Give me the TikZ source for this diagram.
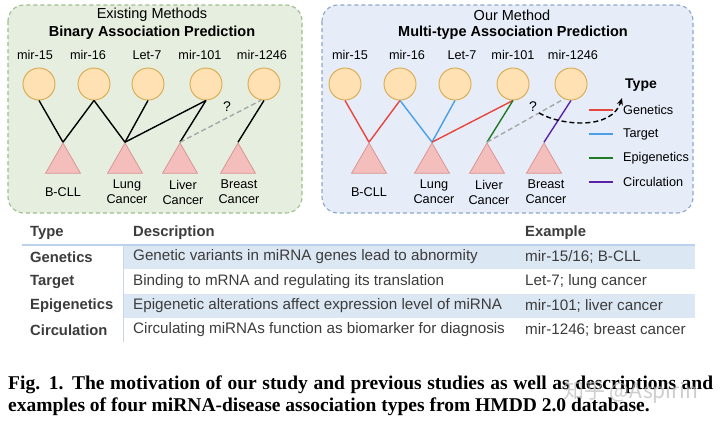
\documentclass[tikz,border=0pt]{standalone}
\usepackage{fontspec}
\setmainfont{Liberation Sans}
\newfontfamily\capfont{Liberation Serif}
\newfontfamily\cjk{Noto Sans CJK SC}
\usetikzlibrary{shapes.geometric,arrows.meta}
\definecolor{gfill}{HTML}{E5EEDF}
\definecolor{gline}{HTML}{9CBF8C}
\definecolor{bfill}{HTML}{E6EDF8}
\definecolor{bline}{HTML}{8EA6CB}
\definecolor{cfill}{HTML}{FFE1B3}
\definecolor{cline}{HTML}{D9A94E}
\definecolor{tfill}{HTML}{F4BEBC}
\definecolor{tline}{HTML}{D99693}
\definecolor{ered}{HTML}{E8453C}
\definecolor{eblue}{HTML}{4A9FE8}
\definecolor{egreen}{HTML}{1E7A26}
\definecolor{epurple}{HTML}{5A22A6}
\definecolor{tabtext}{HTML}{3C3C3C}
\definecolor{rowfill}{HTML}{DCE7F4}
\definecolor{hline}{HTML}{BCD2EC}
\definecolor{vline}{HTML}{CBD5E3}
\tikzset{
  panelL/.style={draw=gline, fill=gfill, dash pattern=on 4pt off 3pt, line width=1.1pt, rounded corners=16pt},
  panelR/.style={draw=bline, fill=bfill, dash pattern=on 4pt off 3pt, line width=1.1pt, rounded corners=16pt},
  mirna/.style={circle, draw=cline, fill=cfill, line width=0.9pt, minimum size=32pt, inner sep=0pt},
  dis/.style={regular polygon, regular polygon sides=3, draw=tline, fill=tfill, line width=0.8pt, minimum size=40.4pt, inner sep=0pt},
  lbl/.style={font=\fontsize{12.7}{15}\selectfont, align=center, inner sep=0pt},
  qlbl/.style={font=\fontsize{14}{17}\selectfont, inner sep=0pt},
  ttl/.style={font=\fontsize{14.5}{17}\selectfont, inner sep=0pt},
  ttlb/.style={font=\bfseries\fontsize{14.5}{17}\selectfont, inner sep=0pt},
  edge/.style={line width=1.4pt},
  qedge/.style={draw=gray!70, line width=1.4pt, dash pattern=on 5pt off 3pt},
  leg/.style={line width=1.4pt},
  tabh/.style={font=\bfseries\fontsize{14.8}{17}\selectfont, text=tabtext, anchor=west, inner sep=0pt},
  tabc/.style={font=\fontsize{15.2}{17}\selectfont, text=tabtext, anchor=west, inner sep=0pt},
  capt/.style={font=\capfont\bfseries\fontsize{19.5}{22}\selectfont, anchor=base west, inner sep=0pt},
}
\begin{document}
\begin{tikzpicture}[x=1pt,y=-1pt]
\useasboundingbox (0,0) rectangle (720,426);
\fill[white] (0,0) rectangle (720,426);

% ---------- left panel ----------
\draw[panelL] (8,5) rectangle (302,213);
\node[ttl] (lt) at (152,15) {Existing Methods};
\node[ttlb] (ltb) at (152,33) {Binary Association Prediction};

\node[lbl] (lm1) at (35,55) {mir-15};
\node[lbl] (lm2) at (88,55) {mir-16};
\node[lbl] (lm3) at (147,55) {Let-7};
\node[lbl] (lm4) at (200,55) {mir-101};
\node[lbl] (lm5) at (262,55) {mir-1246};

\node[mirna] (lc1) at (39,84) {};
\node[mirna] (lc2) at (94,84) {};
\node[mirna] (lc3) at (148,84) {};
\node[mirna] (lc4) at (206,84) {};
\node[mirna] (lc5) at (264,84) {};

\node[dis] (ld1) at (63,163.2) {};
\node[dis] (ld2) at (125,163.2) {};
\node[dis] (ld3) at (180,163.2) {};
\node[dis] (ld4) at (238,163.2) {};

\node[lbl] (ldl1) at (63,192) {B-CLL};
\node[lbl] (ldl2) at (127,192) {Lung\\Cancer};
\node[lbl] (ldl3) at (183,192) {Liver\\Cancer};
\node[lbl] (ldl4) at (239,192) {Breast\\Cancer};

\draw[edge] (lc1.south) -- (ld1.corner 1);
\draw[edge] (lc2.south) -- (ld1.corner 1);
\draw[edge] (lc2.south) -- (ld2.corner 1);
\draw[edge] (lc3.south) -- (ld2.corner 1);
\draw[edge] (lc4.south) -- (ld2.corner 1);
\draw[edge] (lc4.south) -- (ld3.corner 1);
\draw[edge] (lc5.south) -- (ld4.corner 1);
\draw[qedge] (ld3.corner 1) -- (lc5.260);
\node[qlbl] (lq) at (227,107) {?};

% ---------- right panel ----------
\draw[panelR] (322,5) rectangle (693,213);
\node[ttl] (rt) at (512,15) {Our Method};
\node[ttlb] (rtb) at (513,33) {Multi-type Association Prediction};

\node[lbl] (rm1) at (350,55) {mir-15};
\node[lbl] (rm2) at (407,55) {mir-16};
\node[lbl] (rm3) at (462,55) {Let-7};
\node[lbl] (rm4) at (513,55) {mir-101};
\node[lbl] (rm5) at (573,55) {mir-1246};

\node[mirna] (rc1) at (345,84) {};
\node[mirna] (rc2) at (400,84) {};
\node[mirna] (rc3) at (455,84) {};
\node[mirna] (rc4) at (513,84) {};
\node[mirna] (rc5) at (571,84) {};

\node[dis] (rd1) at (369,163.2) {};
\node[dis] (rd2) at (432,163.2) {};
\node[dis] (rd3) at (487,163.2) {};
\node[dis] (rd4) at (544,163.2) {};

\node[lbl] (rdl1) at (369,192) {B-CLL};
\node[lbl] (rdl2) at (434,192) {Lung\\Cancer};
\node[lbl] (rdl3) at (489,192) {Liver\\Cancer};
\node[lbl] (rdl4) at (546,192) {Breast\\Cancer};

\draw[edge, ered] (rc1.south) -- (rd1.corner 1);
\draw[edge, ered] (rc2.south) -- (rd1.corner 1);
\draw[edge, eblue] (rc2.south) -- (rd2.corner 1);
\draw[edge, eblue] (rc3.south) -- (rd2.corner 1);
\draw[edge, ered] (rc4.south) -- (rd2.corner 1);
\draw[edge, egreen] (rc4.south) -- (rd3.corner 1);
\draw[edge, epurple] (rc5.south) -- (rd4.corner 1);
\draw[qedge] (rd3.corner 1) -- (rc5.245);
\node[qlbl] (rq) at (533,107) {?};

% legend
\node[font=\bfseries\fontsize{14}{17}\selectfont, anchor=west, inner sep=0pt] (ltype) at (625,85) {Type};
\coordinate (g1a) at (589,110); \coordinate (g1b) at (613,110);
\coordinate (g2a) at (589,134); \coordinate (g2b) at (613,134);
\coordinate (g3a) at (589,158); \coordinate (g3b) at (613,158);
\coordinate (g4a) at (589,182); \coordinate (g4b) at (613,182);
\draw[leg, ered] (g1a) -- (g1b);
\draw[leg, eblue] (g2a) -- (g2b);
\draw[leg, egreen] (g3a) -- (g3b);
\draw[leg, epurple] (g4a) -- (g4b);
\node[lbl, anchor=west] (lg1) at (623,110) {Genetics};
\node[lbl, anchor=west] (lg2) at (623,134) {Target};
\node[lbl, anchor=west] (lg3) at (623,158) {Epigenetics};
\node[lbl, anchor=west] (lg4) at (623,182) {Circulation};

\coordinate (arrs) at (539,113);
\coordinate (arre) at (622,98);
\draw[line width=1.4pt, dash pattern=on 5pt off 3pt, -{Stealth[length=7pt,width=6pt]}]
  (arrs) .. controls (562,126) and (612,130) .. (arre);

% ---------- table ----------
\fill[rowfill] (123,245) rectangle (695,269);
\fill[rowfill] (123,294) rectangle (695,318);
\draw[hline, line width=1.5pt] (22,245) -- (695,245);
\draw[vline, line width=1pt] (123,245) -- (123,342);

\node[tabh] (th1) at (30,233) {Type};
\node[tabh] (th2) at (133,233) {Description};
\node[tabh] (th3) at (525,233) {Example};

\node[tabh] (r1a) at (30,257) {Genetics};
\node[tabc] (r1b) at (133,257) {Genetic variants in miRNA genes lead to abnormity};
\node[tabc] (r1c) at (525,257) {mir-15/16; B-CLL};
\node[tabh] (r2a) at (30,282) {Target};
\node[tabc] (r2b) at (133,282) {Binding to mRNA and regulating its translation};
\node[tabc] (r2c) at (525,282) {Let-7; lung cancer};
\node[tabh] (r3a) at (30,306) {Epigenetics};
\node[tabc] (r3b) at (133,306) {Epigenetic alterations affect expression level of miRNA};
\node[tabc] (r3c) at (525,306) {mir-101; liver cancer};
\node[tabh] (r4a) at (30,330) {Circulation};
\node[tabc] (r4b) at (133,330) {Circulating miRNAs function as biomarker for diagnosis};
\node[tabc] (r4c) at (525,330) {mir-1246; breast cancer};

% ---------- caption ----------
\node[capt] (cap1) at (8,389) {\makebox[705pt][s]{Fig. 1. The motivation of our study and previous studies as well as descriptions and}};
\node[capt] (cap2) at (8,411) {examples of four miRNA-disease association types from HMDD 2.0 database.};
\node[font=\cjk\fontsize{21}{24}\selectfont, text=gray!55, opacity=0.7, anchor=west, inner sep=0pt] (wm) at (563,392) {知乎 @Aspirin};
\end{tikzpicture}
\end{document}
